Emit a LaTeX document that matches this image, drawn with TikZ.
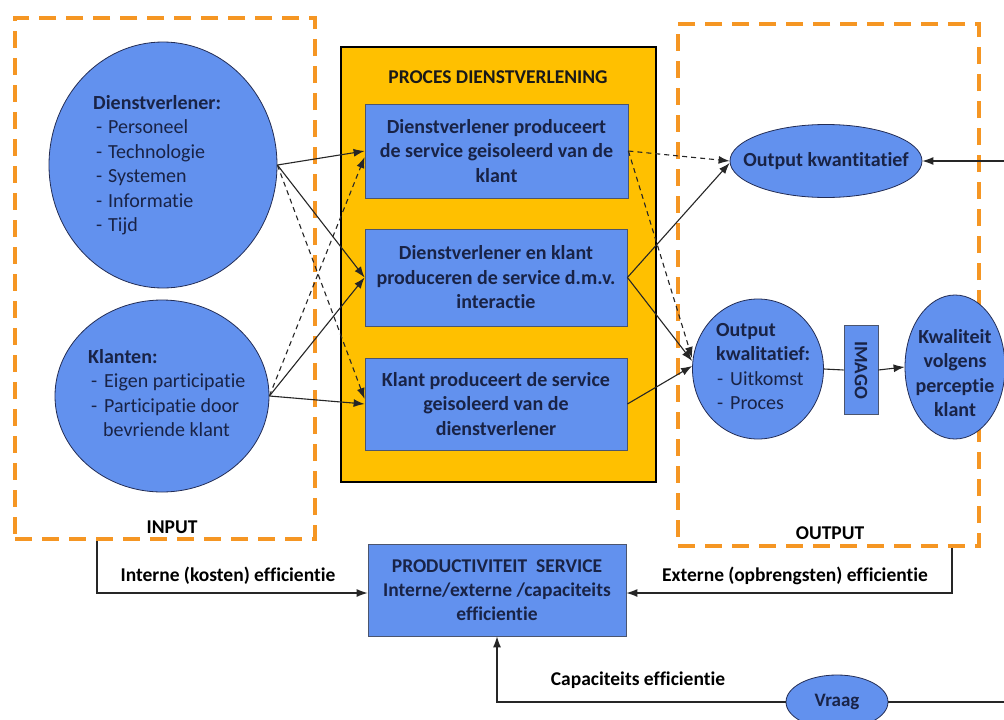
\documentclass[tikz,border=0pt]{standalone}
\usepackage{fontspec}
\setmainfont{Carlito}[Ligatures=NoCommon]
\usetikzlibrary{arrows.meta,calc,shapes.geometric}

\definecolor{shapeblue}{RGB}{98,145,238}
\definecolor{shapeline}{RGB}{35,45,85}
\definecolor{boxline}{RGB}{75,85,110}
\definecolor{inktext}{RGB}{25,35,70}
\definecolor{procyellow}{RGB}{255,192,0}
\definecolor{zoneorange}{RGB}{245,150,35}

\newcommand{\bodyfont}{\fontsize{20}{24.5}\selectfont}
\newcommand{\labelfont}{\fontsize{19.5}{22}\selectfont\bfseries}

\begin{document}
\begin{tikzpicture}[x=1pt,y=-1pt,
  zone/.style={rectangle, draw=zoneorange, line width=3.5pt, dash pattern=on 17pt off 10pt, inner sep=0pt},
  bubble/.style={ellipse, draw=shapeline, line width=0.8pt, fill=shapeblue, inner sep=0pt, text=inktext},
  stepbox/.style={rectangle, draw=boxline, line width=0.8pt, fill=shapeblue, inner sep=0pt, text=inktext, font=\bodyfont\bfseries, align=center},
  bubbletext/.style={anchor=north west, inner sep=0pt, text=inktext, font=\bodyfont, align=left},
  lbl/.style={inner sep=0pt, font=\labelfont, text=black},
  conn/.style={line width=1.1pt, draw=black!85, -{Latex[length=11pt,width=8pt]}},
  dconn/.style={conn, dash pattern=on 5pt off 4pt},
  plain/.style={line width=1.1pt, draw=black!85}
]
\useasboundingbox (0,0) rectangle (1004,720);
\fill[white] (0,0) rectangle (1004,720);

% input and output zones
\node[zone, minimum width=300pt, minimum height=521pt] (inbox) at (165,278.5) {};
\node[zone, minimum width=301pt, minimum height=522pt] (outbox) at (828.5,285) {};
\node[lbl] (linput) at (172,527) {INPUT};
\node[lbl] (loutput) at (830,533) {OUTPUT};

% service process
\node[rectangle, draw=black, line width=2pt, fill=procyellow, minimum width=315pt, minimum height=435pt] (proc) at (498,264.5) {};
\node[lbl, text=black!90] (proctitle) at (498,77) {PROCES DIENSTVERLENING};
\node[stepbox, minimum width=263pt, minimum height=94pt] (box1) at (496.5,151)
  {Dienstverlener produceert\\de service geisoleerd van de\\klant};
\node[stepbox, minimum width=262pt, minimum height=97pt] (box2) at (496,277.5)
  {Dienstverlener en klant\\produceren de service d.m.v.\\interactie};
\node[stepbox, minimum width=262pt, minimum height=92pt] (box3) at (496,404)
  {Klant produceert de service\\geisoleerd van de\\dienstverlener};

% inputs
\node[bubble, minimum width=228pt, minimum height=246pt] (dienst) at (163,165) {};
\node[bubbletext] (dvtext) at (93,95)
  {\textbf{Dienstverlener:}\\
   \makebox[15pt][l]{\hspace{3pt}-}Personeel\\
   \makebox[15pt][l]{\hspace{3pt}-}Technologie\\
   \makebox[15pt][l]{\hspace{3pt}-}Systemen\\
   \makebox[15pt][l]{\hspace{3pt}-}Informatie\\
   \makebox[15pt][l]{\hspace{3pt}-}Tijd};
\node[bubble, minimum width=214pt, minimum height=192pt] (klanten) at (162,396) {};
\node[bubbletext] (kltext) at (88,349)
  {\textbf{Klanten:}\\
   \makebox[16pt][l]{\hspace{3pt}-}Eigen participatie\\
   \makebox[16pt][l]{\hspace{3pt}-}Participatie door\\
   \hspace{15pt}bevriende klant};

% outputs
\node[bubble, minimum width=192pt, minimum height=73pt, inner xsep=-17pt, font=\bodyfont\bfseries] (kwant) at (826,161) {Output kwantitatief};
\node[bubble, minimum width=131pt, minimum height=140pt] (kwal) at (758,369) {};
\node[bubbletext] (kwaltext) at (716,323)
  {\textbf{Output}\\
   \textbf{kwalitatief:}\\
   \makebox[14pt][l]{\hspace{1pt}-}Uitkomst\\
   \makebox[14pt][l]{\hspace{1pt}-}Proces};
\node[rectangle, draw=boxline, line width=0.8pt, fill=shapeblue, minimum width=34pt, minimum height=89pt, inner sep=0pt] (imago) at (861,370)
  {\rotatebox{-90}{\fontsize{19}{20}\selectfont\bfseries\color{inktext}IMAGO}};
\node[bubble, minimum width=100pt, minimum height=144pt] (kwaliteit) at (955,367) {};
\node[inner sep=0pt, text=inktext, font=\bodyfont\bfseries, align=center] (kwtext) at (955,373)
  {Kwaliteit\\volgens\\perceptie\\klant};

% productivity
\node[stepbox, minimum width=258pt, minimum height=92pt, font=\fontsize{19.5}{24}\selectfont\bfseries] (prod) at (497,590)
  {PRODUCTIVITEIT\ \ SERVICE\\Interne/externe /capaciteits\\efficientie};
\node[bubble, minimum width=102pt, minimum height=54pt, font=\fontsize{19}{20}\selectfont\bfseries] (vraag) at (837,702) {Vraag};

\node[lbl] (lint) at (228,576) {Interne (kosten) efficientie};
\node[lbl] (lext) at (795,576) {Externe (opbrengsten) efficientie};
\node[lbl] (lcap) at (638,680) {Capaciteits efficientie};

% input -> process
\draw[conn] (dienst.east) -- (box1.west);
\draw[conn] (dienst.east) -- (box2.west);
\draw[dconn] (dienst.east) -- ($(box3.west)+(0,-5)$);
\draw[dconn] (klanten.east) -- ($(box1.west)+(0,6)$);
\draw[conn] (klanten.east) -- (box2.west);
\draw[conn] (klanten.east) -- (box3.west);

% process -> output
\draw[dconn] (box1.east) -- (kwant.west);
\draw[dconn] (box1.east) -- ($(kwal.west)+(0,-11)$);
\draw[conn] (box2.east) -- ($(kwant.west)+(0,2)$);
\draw[conn] (box2.east) -- ($(kwal.west)+(0,-8)$);
\draw[conn] (box3.east) -- ($(kwal.west)+(0,-3)$);
\draw[plain] (kwal.east) -- (imago.west);
\draw[conn] (imago.east) -- (kwaliteit.west);

% feedback lines
\coordinate (rtop) at (1004,161);
\coordinate (rbot) at (1004,702);
\coordinate (inx) at (97,0);
\coordinate (outx) at (952,0);
\draw[conn] (rtop) -- (kwant.east);
\draw[conn] (inbox.south -| inx) |- ($(prod.west)+(0,3)$);
\draw[conn] (outbox.south -| outx) |- ($(prod.east)+(0,3)$);
\draw[conn] (vraag.west) -| (prod.south);
\draw[plain] (vraag.east) -- (rbot);
\end{tikzpicture}
\end{document}
